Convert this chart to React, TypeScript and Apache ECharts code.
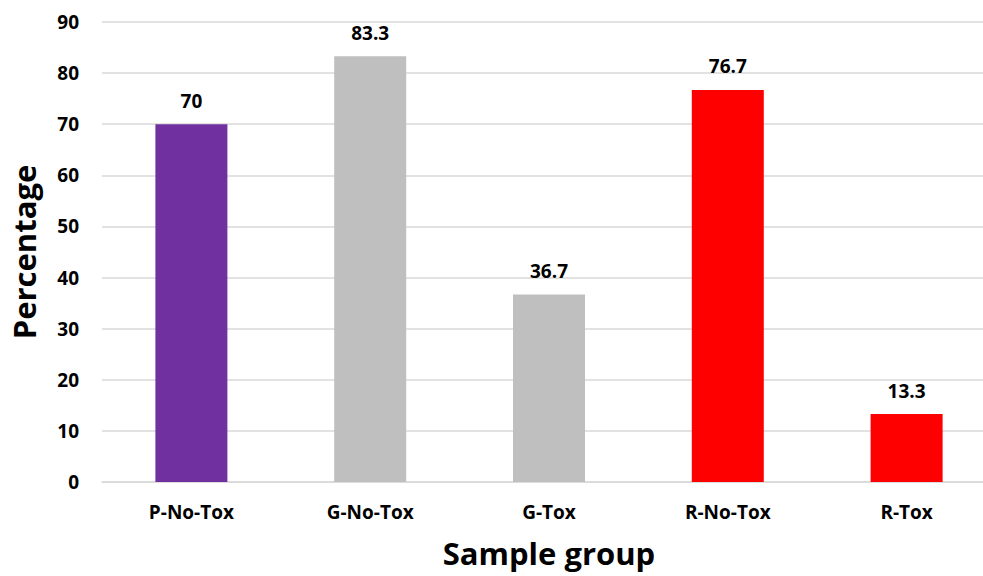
import React, { useEffect, useRef } from "react";
import * as echarts from "echarts";

const categories = ["P-No-Tox", "G-No-Tox", "G-Tox", "R-No-Tox", "R-Tox"];
const percentages = [70, 83.3, 36.7, 76.7, 13.3];
const barColors = ["#7030A0", "#BFBFBF", "#BFBFBF", "#FF0000", "#FF0000"];

const FONT = "'Open Sans', Lato, sans-serif";

export default function App() {
  const ref = useRef<HTMLDivElement>(null);

  useEffect(() => {
    if (!ref.current) return;
    const chart = echarts.init(ref.current, null, { renderer: "svg" });
    chart.setOption({
      animation: false,
      backgroundColor: "#ffffff",
      // plot area runs slightly past the visible right edge
      grid: { left: 101, right: 0, top: 22, bottom: 94, containLabel: false },
      xAxis: {
        type: "category",
        data: categories,
        name: "Sample group",
        nameLocation: "middle",
        nameGap: 55,
        nameTextStyle: { fontFamily: FONT, fontWeight: "bold", fontSize: 31, color: "#000" },
        axisLine: { show: true, lineStyle: { color: "#d9d9d9", width: 1.5 } },
        axisTick: { show: false },
        axisLabel: {
          margin: 20,
          fontFamily: FONT,
          fontWeight: "bold",
          fontSize: 19,
          color: "#000",
        },
      },
      yAxis: {
        type: "value",
        min: 0,
        max: 90,
        interval: 10,
        name: "Percentage",
        nameLocation: "middle",
        nameGap: 63,
        nameTextStyle: { fontFamily: FONT, fontWeight: "bold", fontSize: 31, color: "#000" },
        axisLine: { show: false },
        axisTick: { show: false },
        splitLine: { lineStyle: { color: "#d9d9d9", width: 1.5 } },
        axisLabel: {
          margin: 23,
          fontFamily: FONT,
          fontWeight: "bold",
          fontSize: 19,
          color: "#000",
        },
      },
      series: [
        {
          type: "bar",
          barWidth: 72,
          data: percentages.map((v, i) => ({ value: v, itemStyle: { color: barColors[i] } })),
          label: {
            show: true,
            position: "top",
            distance: 14,
            fontFamily: FONT,
            fontWeight: "bold",
            fontSize: 19,
            color: "#000",
          },
        },
      ],
    });
    return () => chart.dispose();
  }, []);

  return (
    <div
      style={{
        position: "absolute",
        left: 0,
        top: 0,
        width: 983,
        height: 576,
        overflow: "hidden",
        background: "#fff",
      }}
    >
      <div ref={ref} style={{ width: 996, height: 576 }} />
    </div>
  );
}
